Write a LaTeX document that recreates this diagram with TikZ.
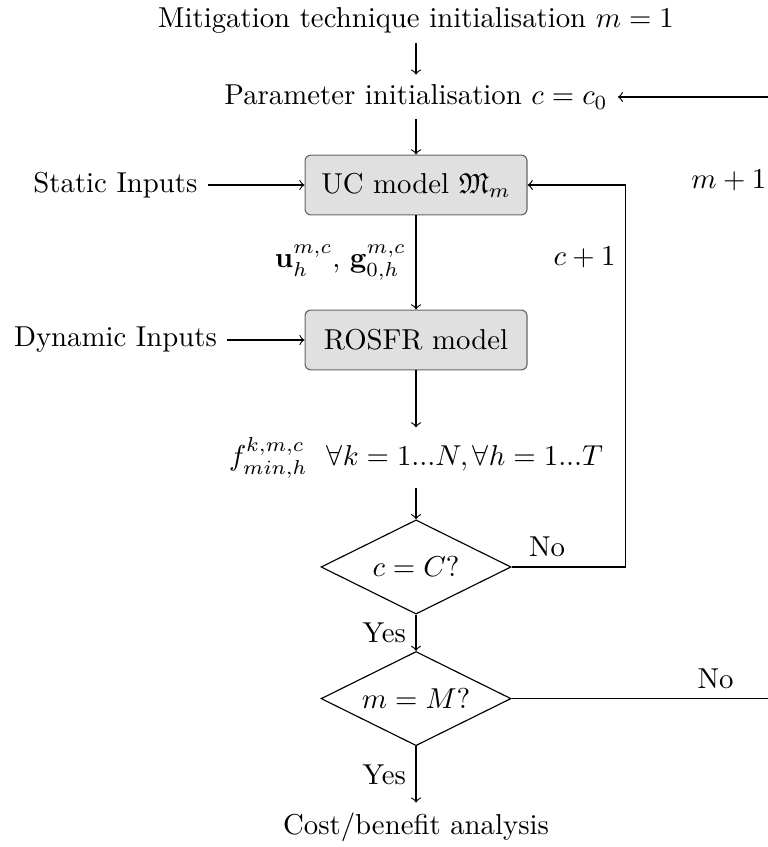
\documentclass[tikz,border=0pt]{standalone}
\usepackage{amssymb}
\usetikzlibrary{shapes.geometric,positioning}

\begin{document}
\begin{tikzpicture}
  [
  modelbox/.style={draw=black!60, fill=black!12, rounded corners=2pt, minimum width=2.71cm, minimum height=0.73cm, align=center},
  decision/.style={draw, diamond, aspect=2, minimum width=2.32cm, minimum height=1.15cm, inner sep=0pt},
  flow/.style={draw, ->}
  ]
  \useasboundingbox (0,0) rectangle (9.377,-10.342);

  \node (init)   at (5.08,-0.244) {Mitigation technique initialisation $m=1$};
  \node (param)  at (5.08,-1.184) {Parameter initialisation $c=c_0$};
  \node[modelbox] (uc)    at (5.08,-2.259) {UC model $\mathfrak{M}_m$};
  \node[modelbox] (rosfr) at (5.08,-4.151) {ROSFR model};
  \node (freq)   at (5.08,-5.59) {$f_{min,h}^{k,m,c}~~\forall k=1...N, \forall h=1...T$};
  \node[decision] (lastc) at (5.08,-6.923) {$c=C?$};
  \node[decision] (lastm) at (5.08,-8.53) {$m=M?$};
  \node (cba)    at (5.08,-10.10) {Cost/benefit analysis};

  \node (static)  at (1.41,-2.259) {Static Inputs};
  \node (dynamic) at (1.41,-4.151) {Dynamic Inputs};

  \coordinate (cloop) at (7.64,-2.259);
  \coordinate (mloop) at (9.48,-1.184);

  \draw[flow] (init) -- (param);
  \draw[flow] (param) -- (uc);
  \draw[flow] (static) -- (uc);
  \draw[flow] (dynamic) -- (rosfr);
  \draw[flow] (uc) -- node[left] {$\mathbf{u}_h^{m,c}$, $\mathbf{g}_{0,h}^{m,c}$} (rosfr);
  \draw[flow] (rosfr) -- (freq);
  \draw[flow] (freq) -- (lastc);
  \draw[flow] (lastc) -- node[left] {Yes} (lastm);
  \draw[flow] (lastm) -- node[left] {Yes} (cba);
  % inner loop over parameters
  \draw[flow] (lastc.east) -- node[above, pos=0.31] {No} (lastc.east -| cloop)
    -- node[left, pos=0.81] {$c+1$} (cloop) -- (uc.east);
  % outer loop over techniques
  \draw[flow] (lastm.east) -- node[above, pos=0.77] {No} (lastm.east -| mloop)
    -- node[left, pos=0.862] {$m+1$} (mloop) -- (param.east);
\end{tikzpicture}
\end{document}
